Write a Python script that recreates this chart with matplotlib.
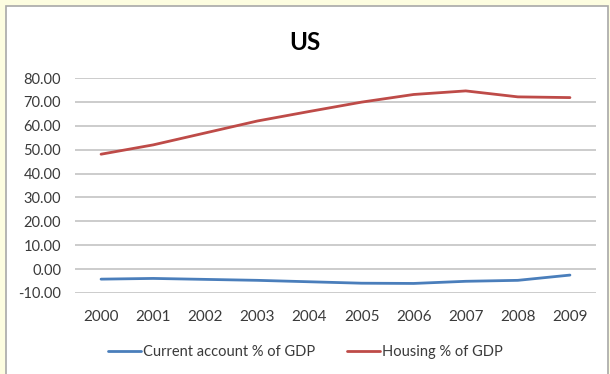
import matplotlib
matplotlib.use('Agg')
import matplotlib.pyplot as plt
from matplotlib.patches import Rectangle

years = ['2000', '2001', '2002', '2003', '2004', '2005', '2006', '2007', '2008', '2009']
current_account = [-4.2, -3.9, -4.3, -4.7, -5.3, -5.9, -6.0, -5.1, -4.7, -2.5]
housing = [48.1, 52.0, 57.0, 62.0, 66.0, 69.9, 73.1, 74.6, 72.1, 71.8]
yticks = [-10, 0, 10, 20, 30, 40, 50, 60, 70, 80]

plt.rcParams['font.family'] = ['Lato', 'DejaVu Sans']

fig = plt.figure(figsize=(6.1, 3.74), dpi=100)
fig.patch.set_facecolor('#fdfde0')

# white chart panel with a grey frame
panel = Rectangle((6/610, -0.02), 602/610, 1 - 6/374 + 0.02, transform=fig.transFigure,
                  facecolor='white', edgecolor='#a8a8a8', linewidth=1.2, zorder=-10)
fig.patches.append(panel)

ax = fig.add_axes([75/610, 1 - 293/374, 521/610, 215/374])
ax.set_facecolor('none')

x = list(range(len(years)))
ax.plot(x, current_account, color='#4a7ebb', linewidth=2.0, label='Current account % of GDP',
        solid_capstyle='round', zorder=3)
ax.plot(x, housing, color='#be4b48', linewidth=2.0, label='Housing % of GDP',
        solid_capstyle='round', zorder=3)

ax.set_xlim(-0.5, len(years) - 0.5)
ax.set_ylim(-10, 80)
ax.set_yticks(yticks)
ax.set_yticklabels(['%.2f' % v for v in yticks])
ax.set_xticks(x)
ax.set_xticklabels(years)
ax.grid(axis='y', color='#c8c8c8', linewidth=1.3)
ax.set_axisbelow(True)
for s in ax.spines.values():
    s.set_visible(False)
ax.tick_params(length=0, labelcolor='#3a3a3a')
ax.tick_params(axis='y', pad=10, labelsize=10.5)
ax.tick_params(axis='x', pad=12, labelsize=11)

fig.text(0.5, 1 - 42/374, 'US', ha='center', va='center', fontsize=17.5, fontweight='bold',
         color='black')

fig.legend(loc='center', bbox_to_anchor=(0.5, 1 - 352/374), ncol=2, frameon=False,
           fontsize=10.5, handlelength=2.3, handletextpad=0.1, columnspacing=2.2,
           labelcolor='#3a3a3a')

fig.savefig('out.png', dpi=100, facecolor=fig.get_facecolor())
